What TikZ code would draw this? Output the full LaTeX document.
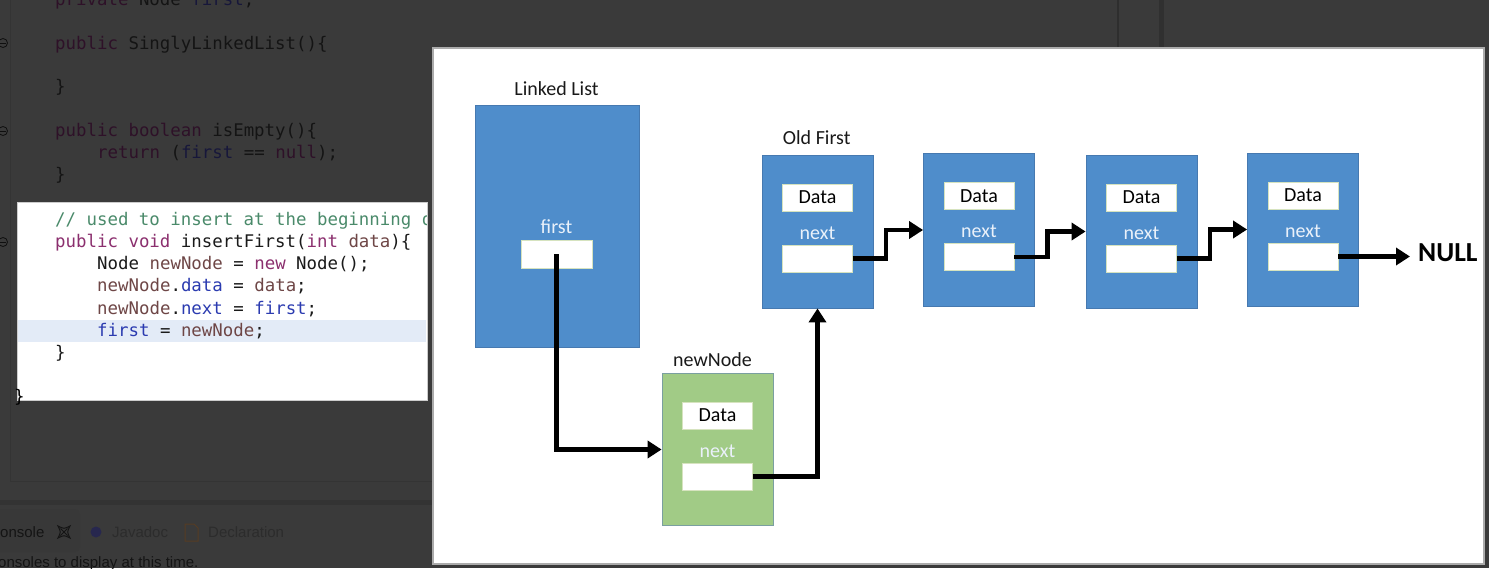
\documentclass[tikz,border=0pt]{standalone}
\usepackage{fontspec}
\usetikzlibrary{arrows.meta}
\newfontfamily\codefont{DejaVu Sans Mono}
\newfontfamily\slidefont{Carlito}
\newfontfamily\uifont{Liberation Sans}

% IDE colours (dimmed editor behind the slide)
\definecolor{idebg}{HTML}{3A3A3A}
\definecolor{dtx}{HTML}{141414}
\definecolor{dkw}{HTML}{2E1128}
\definecolor{dfd}{HTML}{17173A}
\definecolor{dline}{HTML}{343434}
% code popup colours
\definecolor{ctx}{HTML}{1A1A1A}
\definecolor{ckw}{HTML}{8B2F6E}
\definecolor{cfd}{HTML}{2B3BB0}
\definecolor{clv}{HTML}{6E4646}
\definecolor{ccm}{HTML}{4A8A6A}
\definecolor{hl}{HTML}{E3EBF7}
% slide colours
\definecolor{bluef}{HTML}{4F8DCB}
\definecolor{blued}{HTML}{4679B0}
\definecolor{greenf}{HTML}{A1CB86}
\definecolor{greend}{HTML}{7A9FA0}
\definecolor{fieldd}{HTML}{D6E3BF}
\definecolor{lbl}{HTML}{EAF1FA}

\newcommand\tint[2]{{\color{#1}#2}}

% one list node: name, centre x, top y, box style
\newcommand\listnode[4]{%
  \node[#4] (#1) at (#2,#3+76.5) {};
  \node[field] (#1d) at (#2,#3+42.5) {Data};
  \node[nextlbl] (#1l) at (#2,#3+84) {next};
  \node[field] (#1n) at (#2,#3+103.5) {};
}

\begin{document}
\begin{tikzpicture}[x=1pt,y=-1pt,
  dcode/.style={anchor=base west, inner sep=0, font=\codefont\fontsize{17.4}{20}\selectfont, text=dtx},
  pcode/.style={anchor=base west, inner sep=0, font=\codefont\fontsize{17.4}{20}\selectfont, text=ctx},
  ui/.style={anchor=base west, inner sep=0, font=\uifont\fontsize{15}{18}\selectfont},
  slabel/.style={anchor=base, inner sep=0, font=\slidefont\fontsize{20}{24}\selectfont, text=black!90},
  nextlbl/.style={anchor=base, inner sep=0, font=\slidefont\fontsize{20}{24}\selectfont, text=lbl},
  field/.style={draw=fieldd, fill=white, line width=0.8pt, inner sep=0,
    minimum width=70pt, minimum height=27pt, font=\slidefont\fontsize{20}{24}\selectfont, text=black},
  bluebox/.style={draw=blued, fill=bluef, line width=0.8pt, inner sep=0,
    minimum width=111pt, minimum height=153pt},
  greenbox/.style={draw=greend, fill=greenf, line width=0.8pt, inner sep=0,
    minimum width=111pt, minimum height=152pt},
  ptr/.style={line width=4.5pt, draw=black, -{Triangle[length=14pt,width=17pt]}},
  fold/.style={circle, draw=black!75!idebg, line width=0.8pt, minimum size=9pt, inner sep=0},
]
\useasboundingbox (0,0) rectangle (1489,568);
\clip (0,0) rectangle (1489,568);
\fill[idebg] (0,0) rectangle (1489,568);

% editor chrome
\draw[dline, line width=0.8pt] (10,0) -- (10,481) -- (433,481);
\fill[black!12!idebg] (0,500) rectangle (433,505);
\draw[black!20!idebg, line width=1.5pt] (1118,0) -- (1118,48);
\draw[black!18!idebg, line width=5pt] (1161,0) -- (1161,48);

% fold markers in the gutter
\foreach \n/\y in {f1/43, f2/131, f3/242} {
  \node[fold] (\n) at (3,\y) {};
  \draw[black!75!idebg, line width=0.8pt] ([xshift=2pt]\n.west) -- ([xshift=-2pt]\n.east);
}

% editor code (dimmed); the first line scrolls off the top
\node[dcode] (d0) at (55,5) {\tint{dkw}{private} Node \tint{dfd}{first};};
\node[dcode] (d1) at (55,49) {\tint{dkw}{public} SinglyLinkedList()\{};
\node[dcode] (d2) at (55,92) {\}};
\node[dcode] (d3) at (55,136) {\tint{dkw}{public} \tint{dkw}{boolean} isEmpty()\{};
\node[dcode] (d4) at (97,158) {\tint{dkw}{return} (\tint{dfd}{first} == \tint{dkw}{null});};
\node[dcode] (d5) at (55,180) {\}};

% console view
\fill[black!4!idebg, rounded corners=5pt] (-10,509) rectangle (80,552);
\node[ui, text=dtx] (con) at (0,537) {onsole};
\draw[dtx, line width=1pt] (58,526) .. controls (64,529) .. (70,526) .. controls (67,532) .. (70,538)
  .. controls (64,535) .. (58,538) .. controls (61,532) .. (58,526) -- cycle;
\draw[dtx, line width=0.9pt] (60.5,528.5) -- (67.5,535.5) (67.5,528.5) -- (60.5,535.5);
\node[circle, fill=black!20!idebg!85!blue, minimum size=11pt, inner sep=0] (jdi) at (96,532) {};
\node[ui, text=black!25!idebg] (jd) at (112,537) {Javadoc};
\draw[black!25!idebg!80!orange, line width=1pt] (185,524) -- (194,524) -- (198,528) -- (198,541) -- (185,541) -- cycle;
\node[ui, text=black!25!idebg] (decl) at (208,537) {Declaration};
\node[ui, text=dtx] (msg) at (-2,567) {onsoles to display at this time.};

% code popup
\node[draw=black!20, fill=white, minimum width=410pt, minimum height=198pt, inner sep=0] (popup) at (222,301) {};
\fill[hl] (18,320) rectangle (426,342);
\begin{scope}
  \clip (17,202) rectangle (426,400);
  \node[pcode] (p1) at (55,225) {\tint{ccm}{// used to insert at the beginning of the list}};
  \node[pcode] (p2) at (55,247) {\tint{ckw}{public} \tint{ckw}{void} insertFirst(\tint{ckw}{int} \tint{clv}{data})\{};
  \node[pcode] (p3) at (97,269) {Node \tint{clv}{newNode} = \tint{ckw}{new} Node();};
  \node[pcode] (p4) at (97,291) {\tint{clv}{newNode}.\tint{cfd}{data} = \tint{clv}{data};};
  \node[pcode] (p5) at (97,314) {\tint{clv}{newNode}.\tint{cfd}{next} = \tint{cfd}{first};};
  \node[pcode] (p6) at (97,336) {\tint{cfd}{first} = \tint{clv}{newNode};};
  \node[pcode] (p7) at (55,358) {\}};
\end{scope}
\node[dcode, text=black] (d6) at (14,402) {\}};

% slide
\node[draw=black!33, line width=1.5pt, fill=white, minimum width=1051pt, minimum height=516pt, inner sep=0] (slide) at (958.5,306) {};

% linked list header object
\node[slabel] (lltitle) at (556.5,95) {Linked List};
\node[bluebox, minimum width=164pt, minimum height=242pt] (ll) at (557,226) {};
\node[nextlbl] (fl) at (556.5,233) {first};
\node[field, minimum width=71pt, minimum height=28pt] (fb) at (556.5,254) {};

% list nodes
\node[slabel] (oldlbl) at (816.7,144) {Old First};
\listnode{n1}{817.5}{155}{bluebox}
\listnode{n2}{979}{153.5}{bluebox}
\listnode{n3}{1141.5}{155}{bluebox}
\listnode{n4}{1303}{153}{bluebox}
\node[slabel] (nnlbl) at (712.5,366) {newNode};
\listnode{nn}{717.5}{373}{greenbox}

\node[anchor=base west, inner sep=0, inner xsep=8pt, font=\slidefont\bfseries\fontsize{27.5}{32}\selectfont, text=black] (null) at (1410,261) {NULL};

% pointers
\draw[ptr] (fb.center) |- (nn.west);
\draw[ptr] (nnn.east) -| (n1.south);
\draw[ptr] (n1n.east) -- ++(33,0) |- (n2.west);
\draw[ptr] (n2n.east) -- ++(33,0) |- (n3.west);
\draw[ptr] (n3n.east) -- ++(33,0) |- (n4.west);
\draw[ptr] (n4n.east) -- (n4n.east -| null.west);
\end{tikzpicture}
\end{document}
